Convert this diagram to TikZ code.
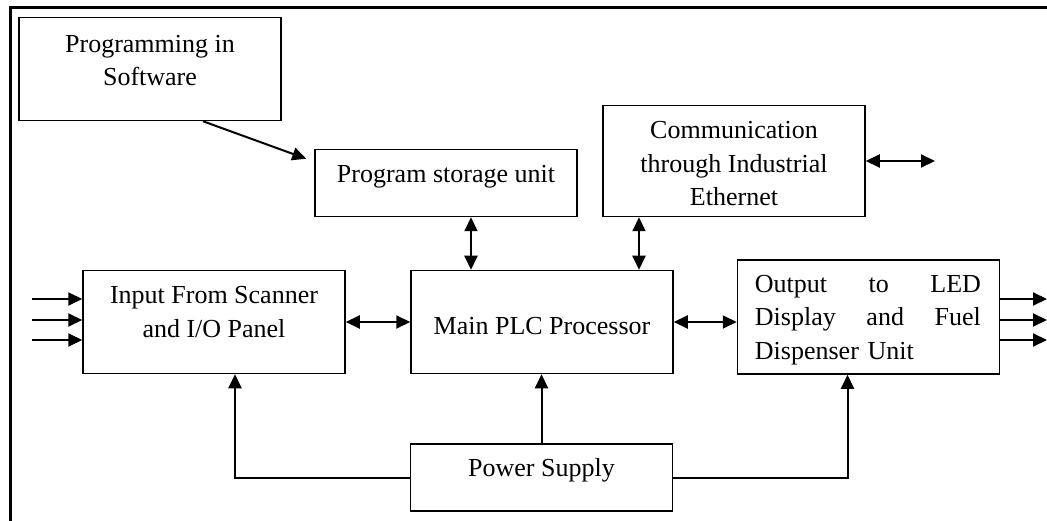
\documentclass[tikz,border=0pt]{standalone}
\usepackage{fontspec}
\setmainfont{Liberation Serif}
\usetikzlibrary{positioning,arrows.meta}
\begin{document}
\begin{tikzpicture}[x=1pt,y=-1pt,blk/.style={draw,line width=1.5pt,minimum
					width=262,inner sep=0pt},txt/.style={inner sep=0pt,align=center,
					font=\fontsize{26}{33.5}\selectfont},arr/.style={line width=2pt,
					-{Triangle[length=14pt,width=13pt]}},dbl/.style={line width=2pt,
					{Triangle[length=14pt,width=13pt]}-{Triangle[length=14pt,width=13pt]}}]
		\useasboundingbox (0,0) rectangle (1047,521);
		\draw[line width=3pt] (10.5,521) -- (10.5,7.5) -- (1047,7.5);
		\node[blk,minimum height=103] (prog) at (150,69) {};
		\node[txt,below=18pt of prog.north] (progtxt) {Programming in\\Software};
		\node[blk,minimum height=67] (store) at (446,183) {};
		\node[txt,below=16pt of store.north] (storetxt) {Program storage unit};
		\node[blk,minimum height=111] (comm) at (734,161) {};
		\node[txt,below=16.5pt of comm.north] (commtxt) {Communication\\through Industrial\\Ethernet};
		\node[blk,minimum height=103] (inp) at (214,322) {};
		\node[txt,below=16.5pt of inp.north] (inptxt) {Input From Scanner\\and I/O Panel};
		\node[blk,minimum height=103] (plc) at (542,322) {};
		\node[txt,below=47.5pt of plc.north] (plctxt) {Main PLC Processor};
		\node[blk,minimum height=114] (out) at (868.5,317) {};
		\node[txt,align=left,text width=226pt,below right=15.5pt and 18pt of out.north west] (outtxt)
			{Output\hfill to\hfill LED\\Display\hfill and\hfill Fuel\\Dispenser Unit};
		\node[blk,minimum height=67] (pwr) at (541.5,477.5) {};
		\node[txt,below=15.5pt of pwr.north] (pwrtxt) {Power Supply};
		\coordinate (eth) at (935,161);
		\draw[arr] ([xshift=53pt]prog.south) -- ([xshift=-8pt,yshift=-10pt]store.north west);
		\draw[dbl] ([xshift=25pt]store.south) -- ([xshift=25pt]store.south |- plc.north);
		\draw[dbl] ([xshift=-95pt]comm.south) -- ([xshift=-95pt]comm.south |- plc.north);
		\draw[dbl] (comm.east) -- (eth);
		\draw[dbl] (inp.east) -- (plc.west);
		\draw[dbl] (plc.east) -- (plc.east -| out.west);
		\foreach \i/\y in {1/299,2/320,3/340}{
			\coordinate (in\i) at (32,\y);
			\coordinate (o\i) at (1047,\y);
			\draw[arr] (in\i) -- (in\i -| inp.west);
			\draw[arr] (o\i -| out.east) -- (o\i);
		}
		\draw[arr] (pwr.west) -| ([xshift=21pt]inp.south);
		\draw[arr] (pwr.north) -- (pwr.north |- plc.south);
		\draw[arr] (pwr.east) -| ([xshift=-21pt]out.south);
	\end{tikzpicture}
\end{document}
